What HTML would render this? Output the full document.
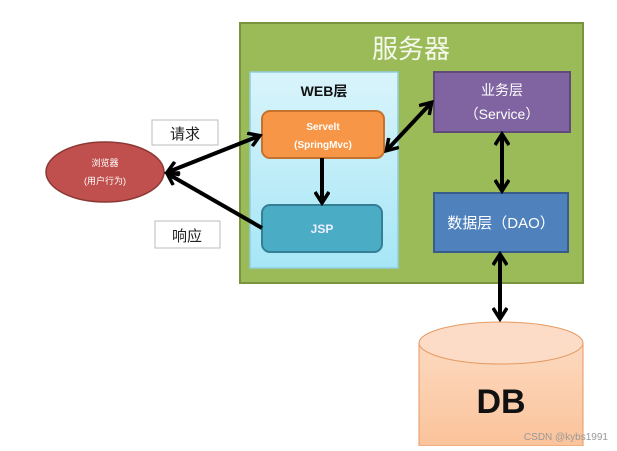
<!DOCTYPE html>
<html><head><meta charset="utf-8"><style>
body{margin:0;background:#fff;width:617px;height:446px;overflow:hidden;font-family:"Liberation Sans","Noto Sans CJK SC",sans-serif}
</style></head><body>
<svg width="617" height="446" xmlns="http://www.w3.org/2000/svg">
<defs>
<marker id="a" markerWidth="16" markerHeight="16" refX="12" refY="8" orient="auto-start-reverse" markerUnits="userSpaceOnUse"><path d="M2,1 L13,8 L2,15" fill="none" stroke="#000" stroke-width="3.5"/></marker>
<linearGradient id="db" x1="0" y1="0" x2="0" y2="1"><stop offset="0" stop-color="#fcd9bf"/><stop offset="1" stop-color="#fbc39b"/></linearGradient>
<linearGradient id="lb" x1="0" y1="0" x2="0" y2="1"><stop offset="0" stop-color="#d9f4fb"/><stop offset="1" stop-color="#a6e6f6"/></linearGradient>
</defs>
<rect x="240" y="23" width="343" height="260" fill="#9bbb59" stroke="#78943f" stroke-width="2"/>
<text x="411" y="58" font-size="26" fill="#f4f8ea" text-anchor="middle" font-family="Noto Sans CJK SC,sans-serif">服务器</text>
<rect x="250" y="72" width="148" height="196" fill="url(#lb)" stroke="#93cddd" stroke-width="1.5"/>
<text x="324" y="96" font-size="14" font-weight="bold" text-anchor="middle" fill="#111">WEB层</text>
<rect x="262" y="111" width="122" height="47" rx="8" fill="#f79646" stroke="#c6722f" stroke-width="2"/>
<text x="323" y="130" font-size="10" font-weight="bold" fill="#fff" text-anchor="middle">Servelt</text>
<text x="323" y="148" font-size="10" font-weight="bold" fill="#fff" text-anchor="middle">(SpringMvc)</text>
<rect x="262" y="205" width="120" height="47" rx="8" fill="#4bacc6" stroke="#357f94" stroke-width="2"/>
<text x="322" y="233" font-size="12" font-weight="bold" fill="#eef" text-anchor="middle">JSP</text>
<rect x="434" y="72" width="136" height="60" fill="#8064a2" stroke="#5f4a7a" stroke-width="2"/>
<text x="502" y="95" font-size="14" fill="#fff" text-anchor="middle">业务层</text>
<text x="502" y="119" font-size="14" fill="#fff" text-anchor="middle">（Service）</text>
<rect x="434" y="193" width="134" height="59" fill="#4f81bd" stroke="#385d8a" stroke-width="2"/>
<text x="501" y="228" font-size="15" fill="#fff" text-anchor="middle">数据层（DAO）</text>
<ellipse cx="105" cy="172" rx="59" ry="30" fill="#c0504d" stroke="#8c3836" stroke-width="1.5"/>
<text x="105" y="166" font-size="9" fill="#fff" text-anchor="middle">浏览器</text>
<text x="105" y="184" font-size="9" fill="#fff" text-anchor="middle">(用户行为)</text>
<rect x="152" y="120" width="66" height="25" fill="#fff" stroke="#bbb"/>
<text x="185" y="139" font-size="15" text-anchor="middle" fill="#222">请求</text>
<rect x="155" y="221" width="65" height="27" fill="#fff" stroke="#bbb"/>
<text x="187" y="241" font-size="15" text-anchor="middle" fill="#222">响应</text>
<path d="M419,343 L419,446 L583,446 L583,343" fill="url(#db)" stroke="#e59a62" stroke-width="1"/>
<ellipse cx="501" cy="343" rx="82" ry="21" fill="#fcdcc6" stroke="#e59a62" stroke-width="1"/>
<text x="501" y="413" font-size="34" font-weight="bold" text-anchor="middle" fill="#111">DB</text>
<text x="608" y="440" font-size="10" text-anchor="end" fill="#999">CSDN @kybs1991</text>
<g stroke="#000" stroke-width="4" fill="none">
<line x1="168" y1="172" x2="259" y2="136" marker-start="url(#a)" marker-end="url(#a)"/>
<line x1="262" y1="228" x2="168" y2="174" marker-end="url(#a)"/>
<line x1="387" y1="150" x2="431" y2="103" marker-start="url(#a)" marker-end="url(#a)"/>
<line x1="322" y1="158" x2="322" y2="202" marker-end="url(#a)"/>
<line x1="502" y1="135" x2="502" y2="190" marker-start="url(#a)" marker-end="url(#a)"/>
<line x1="500" y1="255" x2="500" y2="318" marker-start="url(#a)" marker-end="url(#a)"/>
</g>
</svg>
</body></html>
